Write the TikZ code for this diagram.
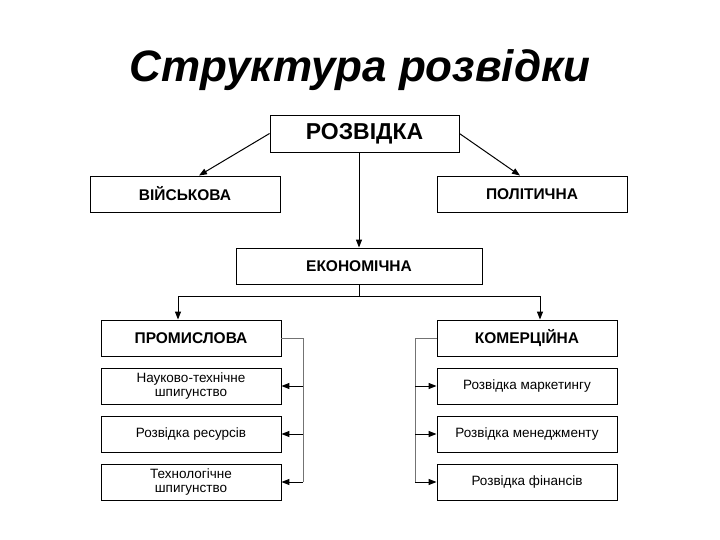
\documentclass[tikz,border=0pt]{standalone}
\usepackage{fontspec}
\setmainfont{Liberation Sans}
\usetikzlibrary{arrows.meta}
\begin{document}
\begin{tikzpicture}[x=1pt,y=-1pt,
  box/.style={draw,line width=0.9pt,minimum height=36pt,inner sep=1pt,align=center,font=\fontsize{13.5}{14}\selectfont},
  bbox/.style={box,font=\bfseries\fontsize{15.5}{17}\selectfont},
  arr/.style={-{Triangle[length=8pt,width=6pt]},line width=1pt},
  br/.style={line width=0.9pt,draw=black!55}]
\useasboundingbox (0,0) rectangle (720,540);
\node[font=\bfseries\itshape\fontsize{44}{50}\selectfont] (title) at (360,70) {Структура розвідки};
\node[bbox,minimum width=189pt,minimum height=37pt,font=\bfseries\fontsize{23}{26}\selectfont] (r) at (364.5,133.5) {РОЗВІДКА};
\node[bbox,minimum width=190pt] (v) at (185,194) {ВІЙСЬКОВА};
\node[bbox,minimum width=190pt] (p) at (532,194) {ПОЛІТИЧНА};
\node[bbox,minimum width=246pt] (e) at (359,266) {ЕКОНОМІЧНА};
\foreach \n/\t/\s [count=\i from 0] in {pr/ПРОМИСЛОВА/bbox, l1/Науково-технічне\\шпигунство/box, l2/Розвідка ресурсів/box, l3/Технологічне\\шпигунство/box}
  \node[\s,minimum width=180pt] (\n) at (191,338+48*\i) {\t};
\foreach \n/\t/\s [count=\i from 0] in {ko/КОМЕРЦІЙНА/bbox, r1/Розвідка маркетингу/box, r2/Розвідка менеджменту/box, r3/Розвідка фінансів/box}
  \node[\s,minimum width=180pt] (\n) at (527,338+48*\i) {\t};
\draw[arr] (r.west) -- (v.north -| 199,0);
\draw[arr] (r.east) -- (p.north -| 520,0);
\draw[arr] (r.south -| 359,0) -- (e.north);
\coordinate (j) at (359,296);
\draw[line width=1pt] (e.south) -- (j);
\draw[arr] (j) -| (pr.north -| 178,0);
\draw[arr] (j) -| (ko.north -| 540,0);
\draw[br] (pr.east) -- (303,338) -- (303,482);
\draw[br] (ko.west) -- (415,338) -- (415,482);
\foreach \n in {l1,l2,l3} \draw[arr] (\n.east -| 303,0) -- (\n.east);
\foreach \n in {r1,r2,r3} \draw[arr] (\n.west -| 415,0) -- (\n.west);
\end{tikzpicture}
\end{document}
